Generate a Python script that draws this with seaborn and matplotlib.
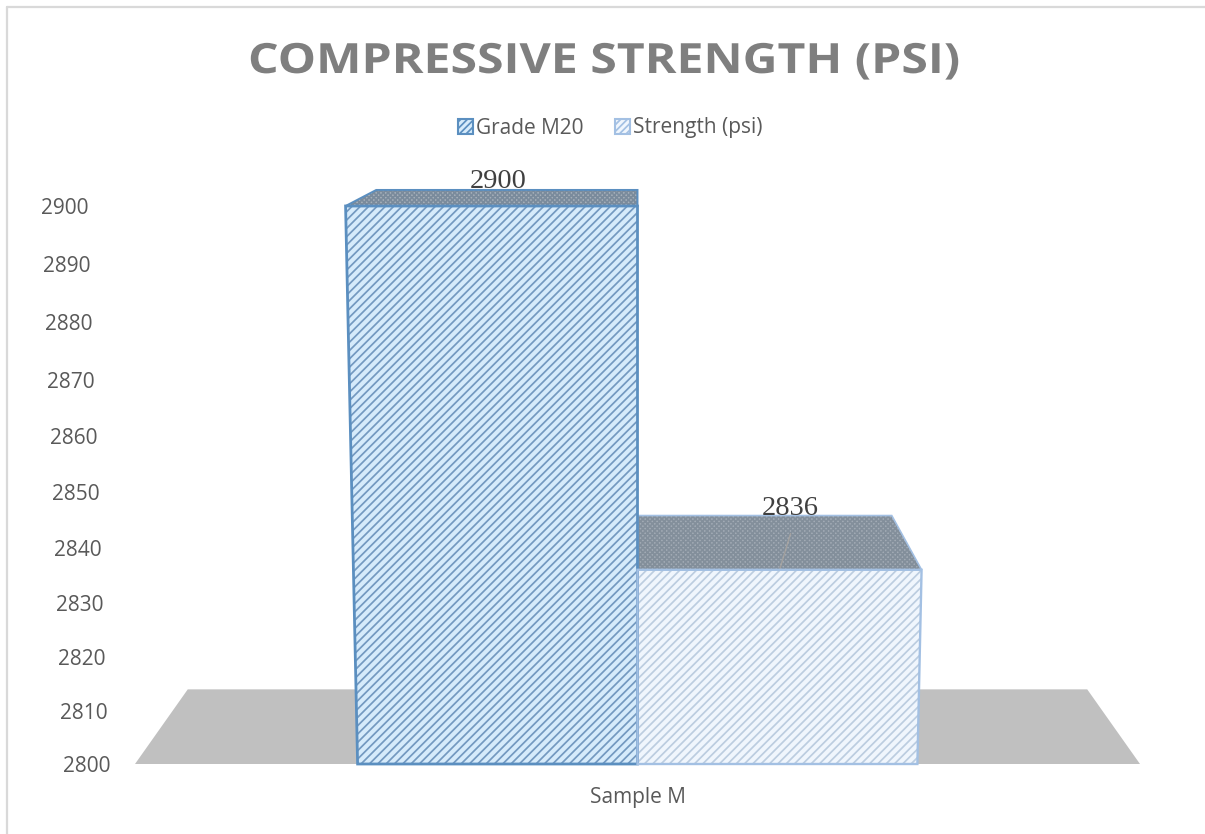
import numpy as np
import pandas as pd
import matplotlib
matplotlib.use("Agg")
import matplotlib.pyplot as plt
from matplotlib.lines import Line2D
from matplotlib.patches import Polygon, Patch
from matplotlib.patheffects import AbstractPathEffect
from matplotlib.ticker import NullLocator
from matplotlib.transforms import Affine2D
import seaborn as sns

categories = ["Sample M"]
series_names = ["Grade M20", "Strength (psi)"]
series_values = [2900, 2836]
y_ticks = [2800, 2810, 2820, 2830, 2840, 2850, 2860, 2870, 2880, 2890, 2900]
chart_title = "COMPRESSIVE STRENGTH (PSI)"

W, H = 1205, 834
sns.set_theme(style="white")
plt.rcParams["font.family"] = ["Open Sans", "DejaVu Sans"]
plt.rcParams["hatch.linewidth"] = 1.25

fig = plt.figure(figsize=(W / 100, H / 100), dpi=100)
ax = fig.add_axes([135 / W, 1 - 764 / H, 1005 / W, 558 / H])

df = pd.DataFrame({"category": categories * 2, "series": series_names, "value": series_values})
sns.barplot(data=df, x="category", y="value", hue="series", width=0.557, legend=False, ax=ax)

# The value axis recedes with the camera: ticks crowd together towards the floor
KEEL = 0.051
def to_perspective(v):
    t = (np.asarray(v, dtype=float) - 2800) / 100
    return t * (1 - KEEL) / (1 - KEEL * t)
def from_perspective(p):
    p = np.asarray(p, dtype=float)
    return 2800 + 100 * p / (1 - KEEL + KEEL * p)

bar_geometry = [(b.get_x(), b.get_width(), int(round(b.get_height()))) for b in list(ax.patches)[:2]]
for b in list(ax.patches):
    b.remove()

ax.set_yscale("function", functions=(to_perspective, from_perspective))
ax.set_xlim(-0.5, 0.5)
ax.set_ylim(2800, 2900)
ax.set_yticks(y_ticks)
ax.set_yticklabels([str(t) for t in y_ticks])
ax.yaxis.set_minor_locator(NullLocator())
ax.set_xlabel("")
ax.set_ylabel("")
ax.tick_params(axis="y", length=0, labelsize=15, labelcolor="#595959")
ax.tick_params(axis="x", length=0, pad=16.5, labelsize=15, labelcolor="#595959")
sns.despine(ax=ax, left=True, bottom=True, top=True, right=True)
ax.patch.set_alpha(0)

# Tick labels follow the slanted left wall of the 3-D box
for tick, value in zip(ax.yaxis.get_major_ticks(), y_ticks):
    tick.set_pad((25 + 22 * float(to_perspective(value))) * 0.72)

VP = np.array([0.5, 1.274])
DEPTH = 0.105
WIDEN = 0.043


def front(x, v):
    p = float(to_perspective(v))
    return np.array([0.5 + x * (1 + WIDEN * p), p])


def back(pt):
    return pt + DEPTH * (VP - pt)


class FineHatchPolygon(Polygon):
    """Polygon whose hatch lines are thinner than the global default."""

    def draw(self, renderer):
        with plt.rc_context({"hatch.linewidth": 0.55}):
            super().draw(renderer)


def poly(verts, cls=Polygon, **kw):
    patch = cls(verts, closed=True, transform=ax.transAxes, clip_on=False, **kw)
    ax.add_patch(patch)
    return patch


# Grey floor under the columns
floor_a, floor_b = np.array([0.0, 0.0]), np.array([1.0, 0.0])
poly([floor_a, floor_b, back(floor_b), back(floor_a)], facecolor="#c0c0c0", edgecolor="none", zorder=1)

styles = [
    dict(face="#d6ebfb", hatch="#7399c0", edge="#5b8fc0", lw=2.0,
         top="#a6b0ba", top_hatch="#7a8b9c", label_shift=(-9, 2)),
    dict(face="#f0f6fd", hatch="#bccde0", edge="#a3c0e3", lw=1.7,
         top="#a2abb5", top_hatch="#838f9b", label_shift=(26, 1)),
]

for (x0, w, v), st in zip(bar_geometry, styles):
    x1 = x0 + w
    fl, fr = front(x0, v), front(x1, v)
    bl, br = front(x0, 2800), front(x1, 2800)
    top = [fl, fr, back(fr), back(fl)]
    poly(top, cls=FineHatchPolygon, facecolor=st["top"], edgecolor=st["top_hatch"],
         hatch="xxxxxxx", lw=0, zorder=2)
    poly(top, fill=False, edgecolor=st["edge"], lw=st["lw"] * 0.7, zorder=2.1)
    poly([bl, br, fr, fl], facecolor=st["face"], edgecolor=st["hatch"], hatch="////", lw=0, zorder=3)
    poly([bl, br, fr, fl], fill=False, edgecolor=st["edge"], lw=st["lw"], zorder=3.5)

# Value labels sit on the back edge of each column top
for (x0, w, v), st in zip(bar_geometry, styles):
    fl, fr = front(x0, v), front(x0 + w, v)
    mid = (back(fl) + back(fr)) / 2
    dx, dy = st["label_shift"]
    ax.annotate(str(v), xy=mid, xycoords="axes fraction", xytext=(dx * 0.72, dy * 0.72),
                textcoords="offset points", ha="center", va="baseline", fontsize=20.5,
                family="Liberation Serif", color="#404040", zorder=5, annotation_clip=False)

# Short leader line from the lower column up towards its label
x0, w, v = bar_geometry[1]
leader_start = front(x0 + 0.5 * w, v)
ax.add_line(Line2D([leader_start[0], leader_start[0] + 0.011], [leader_start[1], leader_start[1] + 0.065],
                   transform=ax.transAxes, color="#b0a8a0", lw=1, alpha=0.7, zorder=2.5, clip_on=False))


class StretchX(AbstractPathEffect):
    """Draws text glyph outlines widened horizontally, as tracked-out display type."""

    def __init__(self, factor):
        super().__init__()
        self.factor = factor

    def draw_path(self, renderer, gc, tpath, affine, rgbFace=None):
        renderer.draw_path(gc, tpath, Affine2D().scale(self.factor, 1) + affine, rgbFace)


fig.text(248 / W, 1 - 73 / H, chart_title, ha="left", va="baseline", fontsize=30,
         fontweight="bold", color="#7f7f7f", path_effects=[StretchX(1.156)])

handles = [Patch(facecolor=st["face"], edgecolor=st["edge"], hatch="/////", lw=1.5) for st in styles]
fig.legend(handles, series_names, loc="center", bbox_to_anchor=(610.5 / W, 1 - 128 / H), ncol=2,
           frameon=False, fontsize=15, labelcolor="#595959", handlelength=0.72, handleheight=0.72,
           handletextpad=0.15, columnspacing=1.5, borderpad=0, borderaxespad=0)

# Chart frame: only the top and left edges fall inside the canvas
fig.add_artist(Line2D([6.5 / W, 1], [1 - 6.5 / H, 1 - 6.5 / H], color="#d9d9d9", lw=1.6))
fig.add_artist(Line2D([6.5 / W, 6.5 / W], [0, 1 - 6.5 / H], color="#d9d9d9", lw=1.6))

fig.savefig("out.png", dpi=100)
